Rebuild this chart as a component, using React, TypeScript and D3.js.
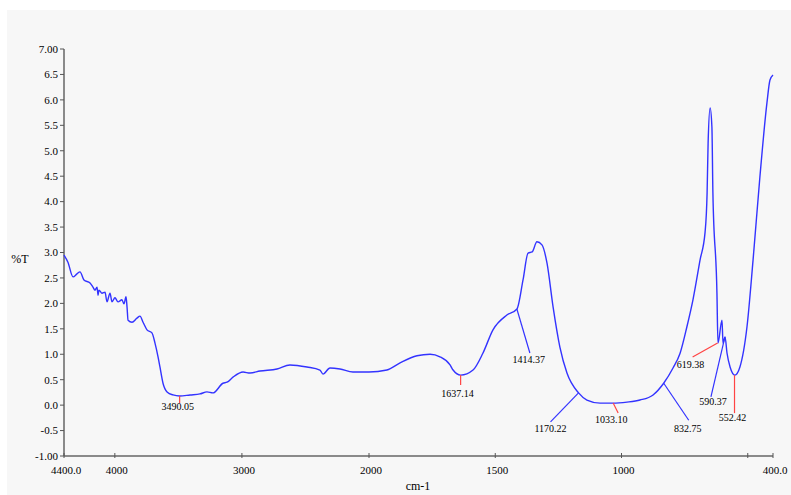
import React from 'react';
import * as d3 from 'd3';

// spectrum (wavenumber cm-1, %T)
const wavenumbers = [
    4400, 4369, 4329, 4298, 4274, 4243, 4195, 4172, 4156, 4140, 4132, 4125, 4101, 4077, 4062, 4038,
    4022, 3999, 3975, 3944, 3928, 3912, 3904, 3896, 3865, 3826, 3802, 3778, 3747, 3708, 3684, 3660,
    3645, 3621, 3589, 3542, 3490, 3408, 3330, 3275, 3228, 3149, 3117, 3070, 2991, 2936, 2858, 2724,
    2622, 2488, 2386, 2362, 2307, 2228, 2126, 2000, 1929, 1877, 1810, 1758, 1719, 1679, 1667, 1637,
    1588, 1549, 1509, 1454, 1414, 1390, 1370, 1354, 1335, 1315, 1295, 1271, 1244, 1216, 1170, 1137,
    1085, 1034, 978, 927, 875, 833, 796, 768, 741, 717, 689, 669, 661, 657, 649, 642,
    638, 622, 618, 602, 598, 590, 582, 570, 551, 531, 503, 479, 452, 424, 412, 400,
];
const transmittance = [
    2.95, 2.81, 2.52, 2.58, 2.62, 2.46, 2.40, 2.32, 2.26, 2.32, 2.16, 2.26, 2.20, 2.22, 2.03, 2.20,
    2.03, 2.11, 2.03, 2.07, 1.99, 2.13, 1.93, 1.67, 1.63, 1.71, 1.75, 1.63, 1.48, 1.42, 1.22, 0.95,
    0.75, 0.43, 0.26, 0.20, 0.18, 0.20, 0.22, 0.26, 0.24, 0.43, 0.45, 0.55, 0.65, 0.63, 0.67, 0.71,
    0.79, 0.75, 0.69, 0.61, 0.73, 0.71, 0.65, 0.65, 0.69, 0.83, 0.97, 1.00, 0.95, 0.79, 0.69, 0.59,
    0.69, 1.02, 1.48, 1.77, 1.89, 2.46, 2.99, 3.01, 3.21, 3.15, 2.79, 1.93, 1.14, 0.63, 0.24, 0.10,
    0.04, 0.04, 0.06, 0.10, 0.20, 0.43, 0.73, 1.02, 1.54, 2.07, 2.85, 3.40, 4.17, 5.15, 5.84, 5.47,
    4.17, 2.20, 1.22, 1.67, 1.22, 1.34, 1.02, 0.75, 0.59, 0.75, 1.54, 2.85, 4.48, 5.94, 6.39, 6.49,
];

// peak picks
const peakWn = [3490.05, 1637.14, 1414.37, 1170.22, 1033.10, 832.75, 619.38, 590.37, 552.42];
const peakT = [0.18, 0.59, 1.89, 0.24, 0.04, 0.43, 1.22, 1.34, 0.59];
const peakLabels = ['3490.05', '1637.14', '1414.37', '1170.22', '1033.10', '832.75', '619.38', '590.37', '552.42'];

const xTicks = [4400, 4000, 3000, 2000, 1500, 1000, 500, 400];
const yTicks = d3.range(-1, 7.001, 0.5);

const W = 791;
const H = 495;
const left = 64;
const top = 49;
const bottom = 456;

// leader line end / label offsets from the peak point, in px
const leader = [
    { dx: 0, dy: 7, lx: -2, ly: 14, red: true },
    { dx: 0, dy: 10, lx: -3, ly: 22, red: true },
    { dx: 13, dy: 44, lx: 12, ly: 54, red: false },
    { dx: -28, dy: 29, lx: -28, ly: 39, red: false },
    { dx: 5, dy: 10, lx: -2, ly: 20, red: true },
    { dx: 25, dy: 37, lx: 24, ly: 49, red: false },
    { dx: -25, dy: 14, lx: -27, ly: 25, red: true },
    { dx: -14, dy: 60, lx: -12, ly: 68, red: false },
    { dx: 0, dy: 38, lx: -2, ly: 46, red: true },
];

const serif = '"Liberation Serif", "DejaVu Serif", serif';

export default function App() {
    // scale changes at 2000 cm-1, as on the instrument plot
    const x = d3.scaleLinear().domain([4400, 2000, 400]).range([left, 369, 773]);
    const y = d3.scaleLinear().domain([-1, 7]).range([bottom, top]);

    const points: [number, number][] = wavenumbers.map((w, i) => [w, transmittance[i]]);
    const line = d3.line<[number, number]>()
        .x(d => x(d[0]))
        .y(d => y(d[1]))
        .curve(d3.curveMonotoneX);

    const xLabel = (v: number) => (v === 4400 || v === 400 ? v.toFixed(1) : v === 500 ? '' : String(v));
    const yLabel = (v: number) => (v === -1 || v === 7 ? v.toFixed(2) : v.toFixed(1));

    return (
        <div style={{ position: 'absolute', left: 0, top: 0 }}>
            <svg width={W} height={H} style={{ display: 'block' }}>
                <rect x={0} y={0} width={W} height={H} fill="#ffffff" />
                <rect x={7} y={10} width={W - 7} height={H - 10} fill="#f7f7f7" />

                {/* axes */}
                <g stroke="#666" strokeWidth={1.5} fill="none">
                    <line x1={left} y1={top} x2={left} y2={bottom} />
                    <line x1={left} y1={bottom} x2={773} y2={bottom} />
                </g>
                <g fontFamily={serif} fontSize={11} fill="#000">
                    {yTicks.map(v => (
                        <g key={v}>
                            <line x1={left - 4} x2={left} y1={y(v)} y2={y(v)} stroke="#555" />
                            <text x={left - 6} y={y(v)} dy="0.35em" textAnchor="end">{yLabel(v)}</text>
                        </g>
                    ))}
                    {xTicks.map(v => (
                        <g key={v}>
                            <line x1={x(v)} x2={x(v)} y1={bottom - 3} y2={bottom + 2} stroke="#555" />
                            <text x={x(v) + 2} y={bottom + 18} textAnchor="middle">{xLabel(v)}</text>
                        </g>
                    ))}
                    <text x={20} y={263} textAnchor="middle" fontSize={12}>%T</text>
                    <text x={418} y={490} textAnchor="middle" fontSize={12}>cm-1</text>
                </g>

                {/* spectrum */}
                <path d={line(points) || ''} fill="none" stroke="#3333ff" strokeWidth={1.4} />

                {/* peak picks */}
                <g fontFamily={serif} fontSize={10} fill="#000">
                    {peakWn.map((w, i) => {
                        const px = x(w);
                        const py = y(peakT[i]);
                        const a = leader[i];
                        return (
                            <g key={peakLabels[i]}>
                                <line x1={px} y1={py} x2={px + a.dx} y2={py + a.dy}
                                    stroke={a.red ? '#ff4444' : '#3333ff'} strokeWidth={1.2} />
                                <text x={px + a.lx} y={py + a.ly} textAnchor="middle">{peakLabels[i]}</text>
                            </g>
                        );
                    })}
                </g>
            </svg>
        </div>
    );
}
